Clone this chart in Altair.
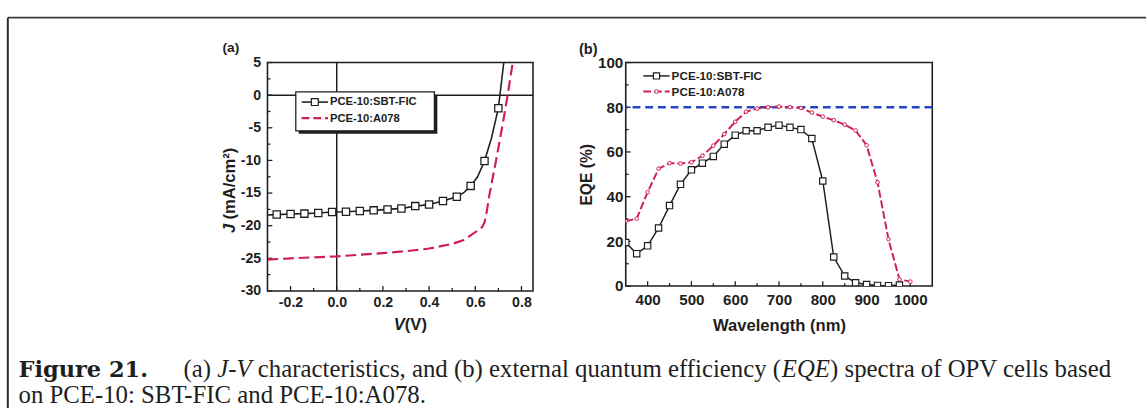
import altair as alt
import pandas as pd

# ---------------- data ----------------
series_names = ["PCE-10:SBT-FIC", "PCE-10:A078"]

# (a) J-V curves
jv_sbt_v = [-0.30, -0.26, -0.20, -0.14, -0.08, -0.02, 0.04, 0.10, 0.16, 0.22, 0.28, 0.34,
            0.40, 0.46, 0.52, 0.55, 0.58, 0.61, 0.64, 0.67, 0.70, 0.72, 0.74]
jv_sbt_j = [-18.35, -18.3, -18.2, -18.15, -18.05, -17.9, -17.85, -17.75, -17.65, -17.5, -17.35, -17.0,
            -16.75, -16.2, -15.55, -14.95, -13.9, -12.5, -10.1, -6.6, -2.0, 4.0, 10.0]
jv_sbt_mark_v = [-0.26, -0.20, -0.14, -0.08, -0.02, 0.04, 0.10, 0.16, 0.22, 0.28, 0.34,
                 0.40, 0.46, 0.52, 0.58, 0.64, 0.70]

jv_a078_v = [-0.30, -0.20, -0.10, 0.00, 0.10, 0.20, 0.30, 0.40, 0.50, 0.55, 0.60, 0.63,
             0.64, 0.65, 0.66, 0.69, 0.72, 0.74, 0.76, 0.78]
jv_a078_j = [-25.2, -25.0, -24.85, -24.7, -24.45, -24.2, -23.9, -23.5, -22.8, -22.2, -21.0, -20.2,
             -19.5, -17.8, -15.5, -10.0, -4.2, 0.0, 4.5, 9.0]

# (b) EQE spectra
eqe_wl_sbt = [350, 375, 400, 425, 450, 475, 500, 525, 550, 575, 600, 625, 650,
              675, 700, 725, 750, 775, 800, 825, 850, 875, 900, 925, 950, 975]
eqe_sbt = [19.5, 14.5, 18.0, 26.0, 36.0, 45.5, 52.0, 55.0, 58.0, 63.5, 67.5, 69.5, 69.5,
           71.0, 72.0, 71.0, 70.0, 66.0, 47.0, 13.0, 4.5, 1.5, 0.7, 0.3, 0.2, 0.5]
eqe_wl_a078 = [350, 375, 400, 425, 450, 475, 500, 525, 550, 575, 600, 625, 650, 675,
               700, 725, 750, 775, 800, 825, 850, 875, 900, 925, 950, 975, 1000]
eqe_a078 = [29.0, 30.2, 42.0, 52.5, 55.0, 54.8, 55.4, 58.3, 62.8, 68.0, 73.5, 78.0, 79.4, 80.0,
            80.3, 80.0, 79.7, 77.6, 75.8, 74.2, 72.2, 69.6, 63.0, 46.4, 21.0, 3.0, 2.0]
eqe_ref_level = [80]
jv_zero = [0]

# axis ticks
a_x_major = [-0.2, 0.0, 0.2, 0.4, 0.6, 0.8]
a_x_minor = [-0.1, 0.1, 0.3, 0.5, 0.7]
a_y_major = [5, 0, -5, -10, -15, -20, -25, -30]
a_y_minor = [2.5, -2.5, -7.5, -12.5, -17.5, -22.5, -27.5]
b_x_major = [400, 500, 600, 700, 800, 900, 1000]
b_x_minor = [450, 550, 650, 750, 850, 950]
b_y_major = [0, 20, 40, 60, 80, 100]
b_y_minor = [10, 30, 50, 70, 90]

caption_head = "Figure 21."
caption_pieces = [("(a) ", "normal"), ("J-V", "italic"),
                  (" characteristics, and (b) external quantum efficiency (", "normal"),
                  ("EQE", "italic"), (") spectra of OPV cells based", "normal")]
caption_line2 = "on PCE-10: SBT-FIC and PCE-10:A078."

# ---------------- styles ----------------
SANS = "Liberation Sans"
SERIF = "Liberation Serif"
BLACK = "#1e1e1e"
RED = "#cf1f4f"
BLUE = "#2544c8"

WA, HA = 272, 234
WB, HB = 314, 229
GAP = 95

one = pd.DataFrame({"k": [0]})

# Times-compatible advance widths (per 1000 em), used only to place caption pieces
TNR = {" ": 250, "(": 333, ")": 333, ",": 250, ".": 250, "-": 333, ":": 278,
       "a": 444, "b": 500, "c": 444, "d": 500, "e": 444, "f": 333, "g": 500, "h": 500,
       "i": 278, "l": 278, "m": 778, "n": 500, "o": 500, "p": 500, "q": 500, "r": 333,
       "s": 389, "t": 278, "u": 500, "x": 500, "y": 500, "A": 722, "B": 667, "C": 667,
       "E": 611, "F": 556, "I": 333, "J": 389, "O": 722, "P": 556, "Q": 722, "S": 556,
       "T": 611, "V": 722}
TNR_I = {"J": 444, "-": 333, "V": 611, "E": 611, "Q": 722}


def text_width(s, size, style):
    tab = TNR_I if style == "italic" else {}
    return sum(tab.get(ch, TNR.get(ch, 500)) for ch in s) * size / 1000.0


def df(xs, ys):
    return pd.DataFrame({"x": xs, "y": ys})


def txt(text, x, y, size=12, weight="bold", font=SANS, style="normal", align="left",
        baseline="middle", angle=0, color=BLACK):
    kw = dict(text=text, font=font, fontSize=size, fontWeight=weight, fontStyle=style,
              align=align, baseline=baseline, color=color)
    if angle:
        kw["angle"] = angle
    return alt.Chart(one).mark_text(**kw).encode(x=alt.value(x), y=alt.value(y))


def hrule(x1, x2, y, color=BLACK, width=1.5, dash=None):
    kw = dict(color=color, strokeWidth=width)
    if dash:
        kw["strokeDash"] = dash
    return alt.Chart(one).mark_rule(**kw).encode(x=alt.value(x1), x2=alt.value(x2), y=alt.value(y))


def vrule(x, y1, y2, color=BLACK, width=1.5):
    return alt.Chart(one).mark_rule(color=color, strokeWidth=width).encode(
        x=alt.value(x), y=alt.value(y1), y2=alt.value(y2))


def pt(x, y, shape, size, fill, stroke, sw=1.2):
    return alt.Chart(one).mark_point(shape=shape, size=size, filled=True, fill=fill,
                                     stroke=stroke, strokeWidth=sw, opacity=1).encode(
        x=alt.value(x), y=alt.value(y))


def axis_common(**kw):
    base = dict(ticks=False, tickSize=0, domain=False, grid=False, labelFont=SANS,
                labelFontWeight="bold", labelColor=BLACK, labelOverlap=False, labelFlush=False,
                titleFont=SANS, titleFontWeight="bold", titleColor=BLACK)
    base.update(kw)
    return alt.Axis(**base)


def xticks(vals, X, H, L):
    return alt.Chart(pd.DataFrame({"x": vals})).mark_rule(color=BLACK, strokeWidth=1.3).encode(
        x=X, y=alt.value(H), y2=alt.value(H - L))


def yticks(vals, Y, L):
    return alt.Chart(pd.DataFrame({"y": vals})).mark_rule(color=BLACK, strokeWidth=1.3).encode(
        y=Y, x=alt.value(0), x2=alt.value(L))


# ---------------- panel (a) ----------------
sxa = alt.Scale(domain=[-0.3, 0.85], nice=False, zero=False)
sya = alt.Scale(domain=[-30, 5], nice=False, zero=False)
XA = alt.X("x:Q", scale=sxa, axis=axis_common(
    values=a_x_major, title=None, labelFontSize=14.5, labelPadding=5,
    labelExpr="replace(format(datum.value, '.1f'), '\u2212', '-')"))
YA = alt.Y("y:Q", scale=sya, axis=axis_common(
    values=a_y_major, title=None, labelFontSize=14.5, labelPadding=7,
    labelExpr="replace(format(datum.value, 'd'), '\u2212', '-')"))

zero_h = alt.Chart(pd.DataFrame({"y": jv_zero})).mark_rule(color=BLACK, strokeWidth=1.5).encode(y=YA)
zero_v = alt.Chart(pd.DataFrame({"x": jv_zero})).mark_rule(color=BLACK, strokeWidth=1.5).encode(x=XA)

line_sbt_a = alt.Chart(df(jv_sbt_v, jv_sbt_j)).mark_line(
    color=BLACK, strokeWidth=1.6, clip=True).encode(x=XA, y=YA, order="x:Q")
mk_j = [dict(zip(jv_sbt_v, jv_sbt_j))[v] for v in jv_sbt_mark_v]
pts_sbt_a = alt.Chart(df(jv_sbt_mark_v, mk_j)).mark_point(
    shape="square", size=55, filled=True, fill="white", stroke=BLACK, strokeWidth=1.3,
    opacity=1, clip=True).encode(x=XA, y=YA)
line_a078_a = alt.Chart(df(jv_a078_v, jv_a078_j)).mark_line(
    color=RED, strokeWidth=2.2, strokeDash=[11, 5], clip=True).encode(x=XA, y=YA, order="x:Q")

# legend (a)
leg_a = [
    alt.Chart(one).mark_rect(color=BLACK).encode(x=alt.value(32), x2=alt.value(174),
                                                  y=alt.value(33), y2=alt.value(73)),
    alt.Chart(one).mark_rect(fill="white", stroke=BLACK, strokeWidth=1.3).encode(
        x=alt.value(29), x2=alt.value(171), y=alt.value(30), y2=alt.value(70)),
    hrule(35, 62, 40.5, BLACK, 1.6),
    pt(48.5, 40.5, "square", 50, "white", BLACK),
    txt(series_names[0], 64, 41, size=11.5),
    hrule(35, 62, 57, RED, 2.2, [8, 4]),
    txt(series_names[1], 64, 57.5, size=11.5),
]

# frame, panel label, axis titles, caption (positioned relative to panel a)
frame = [
    hrule(-266, 900, -46, "#3a3a3a", 2),
    vrule(-266, -46, 354, "#2a2a2a", 2),
]
labels_a = [
    txt("(a)", -46, -15, size=14),
    txt("J", -38, 170, size=17, style="italic", align="center", angle=270),
    txt("(mA/cm\u00b2)", -38, 124, size=17, align="center", angle=270),
    txt("V", 135, 269, size=17, style="italic", align="center"),
    txt("(V)", 152, 269, size=17, align="center"),
]

CAP_X0 = 18 - 273          # caption left edge relative to panel a
CAP_X1 = 187 - 273         # start of the text after "Figure 21."
CAP_SIZE = 25.4
CY1, CY2 = 322, 349
caption = [txt(caption_head, CAP_X0, CY1, size=23, font="DejaVu Serif", baseline="alphabetic")]
cx = CAP_X1
for piece, style in caption_pieces:
    lead = len(piece) - len(piece.lstrip(" "))
    cx += text_width(" " * lead, CAP_SIZE, style)
    body = piece.strip(" ")
    caption.append(txt(body, cx, CY1, size=CAP_SIZE, font=SERIF, weight="normal", style=style,
                       baseline="alphabetic"))
    cx += text_width(piece.lstrip(" "), CAP_SIZE, style)
caption.append(txt(caption_line2, CAP_X0, CY2, size=CAP_SIZE, font=SERIF, weight="normal",
                   baseline="alphabetic"))

panel_a = alt.layer(
    zero_h, zero_v,
    xticks(a_x_major, XA, HA, 5), xticks(a_x_minor, XA, HA, 3),
    yticks(a_y_major, YA, 5), yticks(a_y_minor, YA, 3),
    line_a078_a, line_sbt_a, pts_sbt_a,
    *leg_a, *frame, *labels_a, *caption,
).properties(width=WA, height=HA)

# ---------------- panel (b) ----------------
sxb = alt.Scale(domain=[350, 1050], nice=False, zero=False)
syb = alt.Scale(domain=[0, 100], nice=False, zero=False)
XB = alt.X("x:Q", scale=sxb, axis=axis_common(
    values=b_x_major, title="Wavelength (nm)", labelFontSize=15.5, labelPadding=7,
    titleFontSize=17, titlePadding=10, format="d"))
YB = alt.Y("y:Q", scale=syb, axis=axis_common(
    values=b_y_major, title="EQE (%)", labelFontSize=15.5, labelPadding=3,
    titleFontSize=16, titlePadding=3, format="d"))

ref_line = alt.Chart(pd.DataFrame({"y": eqe_ref_level})).mark_rule(
    color=BLUE, strokeWidth=2.5, strokeDash=[8, 5]).encode(y=YB)
line_sbt_b = alt.Chart(df(eqe_wl_sbt, eqe_sbt)).mark_line(
    color=BLACK, strokeWidth=1.5, clip=True).encode(x=XB, y=YB, order="x:Q")
pts_sbt_b = alt.Chart(df(eqe_wl_sbt, eqe_sbt)).mark_point(
    shape="square", size=42, filled=True, fill="white", stroke=BLACK, strokeWidth=1.2,
    opacity=1, clip=True).encode(x=XB, y=YB)
line_a078_b = alt.Chart(df(eqe_wl_a078, eqe_a078)).mark_line(
    color=RED, strokeWidth=2, strokeDash=[8, 3], clip=True).encode(x=XB, y=YB, order="x:Q")
pts_a078_b = alt.Chart(df(eqe_wl_a078, eqe_a078)).mark_point(
    shape="circle", size=14, filled=True, fill="white", stroke=RED, strokeWidth=1,
    opacity=1, clip=True).encode(x=XB, y=YB)

leg_b = [
    hrule(18, 45, 13.7, BLACK, 1.5),
    pt(31.5, 13.7, "square", 40, "white", BLACK),
    txt(series_names[0], 47, 14, size=12),
    hrule(18, 45, 29.7, RED, 2, [8, 3]),
    pt(31.5, 29.7, "circle", 14, "white", RED, 1),
    txt(series_names[1], 47, 30, size=12),
]
labels_b = [txt("(b)", -48, -14, size=15)]

panel_b = alt.layer(
    xticks(b_x_major, XB, HB, 5), xticks(b_x_minor, XB, HB, 3),
    yticks(b_y_major, YB, 5), yticks(b_y_minor, YB, 3),
    ref_line, line_sbt_b, line_a078_b, pts_a078_b, pts_sbt_b,
    *leg_b, *labels_b,
).properties(width=WB, height=HB)

chart = alt.hconcat(panel_a, panel_b, spacing=GAP, bounds="flush").properties(
    padding={"left": 6, "top": 11, "right": 0, "bottom": 0},
    background="white",
).configure_view(stroke=BLACK, strokeWidth=1.6).configure_axis(labelOverlap=False)

chart.save("out.html", embed_options={"renderer": "svg", "actions": False})
